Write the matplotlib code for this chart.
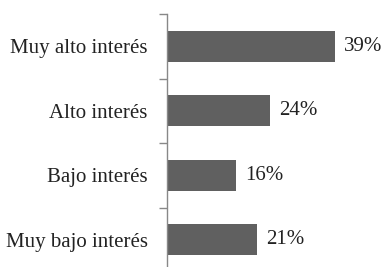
import matplotlib
matplotlib.use("Agg")
import matplotlib.pyplot as plt
import numpy as np

categories = ["Muy alto interés", "Alto interés", "Bajo interés", "Muy bajo interés"]
values = [39, 24, 16, 21]
value_labels = ["39%", "24%", "16%", "21%"]

plt.rcParams['font.family'] = ['Liberation Serif', 'DejaVu Serif']

fig = plt.figure(figsize=(3.84, 2.67), dpi=100)
ax = fig.add_axes([167/384, -5/267, 215/384, 258/267])

y = np.arange(len(categories))
ax.barh(y, values, height=0.48, color="#606060")
ax.set_ylim(len(categories) - 0.5, -0.5)
ax.set_xlim(0, 50)

for yi, v, lab in zip(y, values, value_labels):
    ax.text(v + 2.1, yi, lab, va="center", ha="left", fontsize=15, color="#222222")

ax.set_yticks(y)
ax.set_yticklabels(categories, fontsize=15, color="#222222")
ax.tick_params(axis="y", which="major", length=0, pad=14)
ax.set_yticks(np.arange(-0.5, len(categories), 1), minor=True)
ax.tick_params(axis="y", which="minor", length=6, color="#888888", width=1)
ax.set_xticks([])
for s in ["top", "right", "bottom"]:
    ax.spines[s].set_visible(False)
ax.spines["left"].set_color("#888888")
ax.spines["left"].set_linewidth(1)

fig.savefig("out.png", dpi=100)
